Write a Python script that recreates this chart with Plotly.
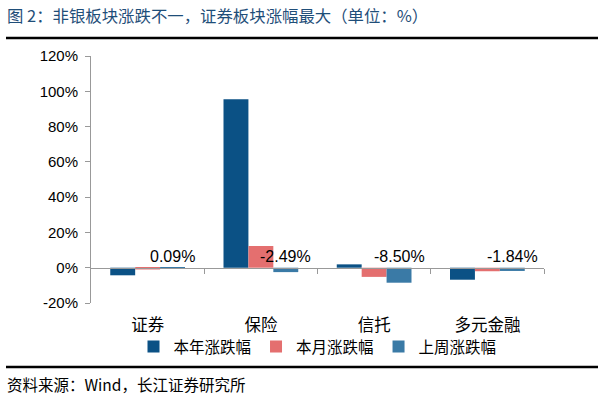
import plotly.graph_objects as go

categories = ["证券", "保险", "信托", "多元金融"]
year_chg = [-4.3, 95.5, 1.9, -6.8]
month_chg = [-1.0, 12.3, -5.2, -2.0]
week_chg = [0.09, -2.49, -8.50, -1.84]
week_labels = ["0.09%", "-2.49%", "-8.50%", "-1.84%"]
series_names = ["本年涨跌幅", "本月涨跌幅", "上周涨跌幅"]
colors = ["#0B5185", "#E46F6F", "#3A7AA6"]
y_ticks = [-20, 0, 20, 40, 60, 80, 100, 120]

FONT = "Liberation Sans, Arial, Noto Sans CJK SC, sans-serif"
CJK = "Noto Sans CJK SC, Liberation Sans, sans-serif"

L, R, T, B = 91, 61, 56, 93
PW = 605 - L - R
PH = 396 - T - B

def px(xp):
    return (xp - L) / PW

def py(yp):
    return (396 - B - yp) / PH

xpos = list(range(len(categories)))
fig = go.Figure()
for name, vals, col in zip(series_names, [year_chg, month_chg, week_chg], colors):
    fig.add_trace(go.Bar(x=xpos, y=vals, name=name, marker_color=col,
                         marker_line_width=0, hoverinfo="skip"))

# invisible trace for zero-line axis
fig.add_trace(go.Scatter(x=[-0.5, 3.5], y=[0, 0], xaxis="x2", mode="lines",
                         line=dict(width=0), showlegend=False, hoverinfo="skip"))

bar_w = 0.66 / 3
for i, lab in enumerate(week_labels):
    fig.add_annotation(x=xpos[i] + bar_w, y=0, text=lab, showarrow=False,
                       yanchor="bottom", yshift=1, xref="x", yref="y",
                       font=dict(size=16, color="#000000", family=FONT))

fig.update_layout(
    width=605, height=396,
    margin=dict(l=L, r=R, t=T, b=B),
    paper_bgcolor="white", plot_bgcolor="white",
    barmode="group", bargap=0.34, bargroupgap=0,
    showlegend=True,
    legend=dict(orientation="h", x=0.5, xanchor="center", y=py(347), yanchor="middle",
                font=dict(size=15.5, family=CJK, color="#000"),
                bgcolor="rgba(0,0,0,0)",
                itemwidth=30, tracegroupgap=0, traceorder="normal"),
    xaxis=dict(range=[-0.5, 3.5], tickvals=xpos, ticktext=categories,
               showline=False, showgrid=False, zeroline=False, ticks="",
               tickfont=dict(size=16.5, family=CJK, color="#000"),
               ticklabelstandoff=10),
    xaxis2=dict(range=[-0.5, 3.5], overlaying="x", anchor="free", position=20/140,
                side="bottom", showline=True, linecolor="#999999", linewidth=1,
                tickvals=[0.5, 1.5, 2.5, 3.5], ticks="outside", ticklen=5,
                tickcolor="#999999", showticklabels=False, showgrid=False,
                zeroline=False),
    yaxis=dict(range=[-20, 120], tickvals=y_ticks,
               ticktext=[f"{v}%" for v in y_ticks],
               showline=True, linecolor="#999999", linewidth=1,
               ticks="outside", ticklen=5, tickcolor="#999999",
               showgrid=False, zeroline=False, ticklabelstandoff=4,
               tickfont=dict(size=15, family=FONT, color="#000")),
)

# title and decoration lines
fig.add_annotation(text="图 2：非银板块涨跌不一，证券板块涨幅最大（单位：%）",
                   xref="paper", yref="paper", x=px(5), y=py(15),
                   xanchor="left", yanchor="middle", showarrow=False,
                   font=dict(size=16.4, family=CJK, color="#1F4E79"))
fig.add_shape(type="line", xref="paper", yref="paper",
              x0=px(6), x1=px(598), y0=py(38), y1=py(38),
              line=dict(color="black", width=2.5))
fig.add_shape(type="line", xref="paper", yref="paper",
              x0=px(6), x1=px(598), y0=py(367), y1=py(367),
              line=dict(color="black", width=2.5))
fig.add_annotation(text="资料来源：Wind，长江证券研究所",
                   xref="paper", yref="paper", x=px(5), y=py(384),
                   xanchor="left", yanchor="middle", showarrow=False,
                   font=dict(size=15.5, family=CJK, color="#000"))

fig.write_html("out.html", config={"displayModeBar": False},
               post_script="document.body.style.margin='0';document.body.style.padding='0';")
